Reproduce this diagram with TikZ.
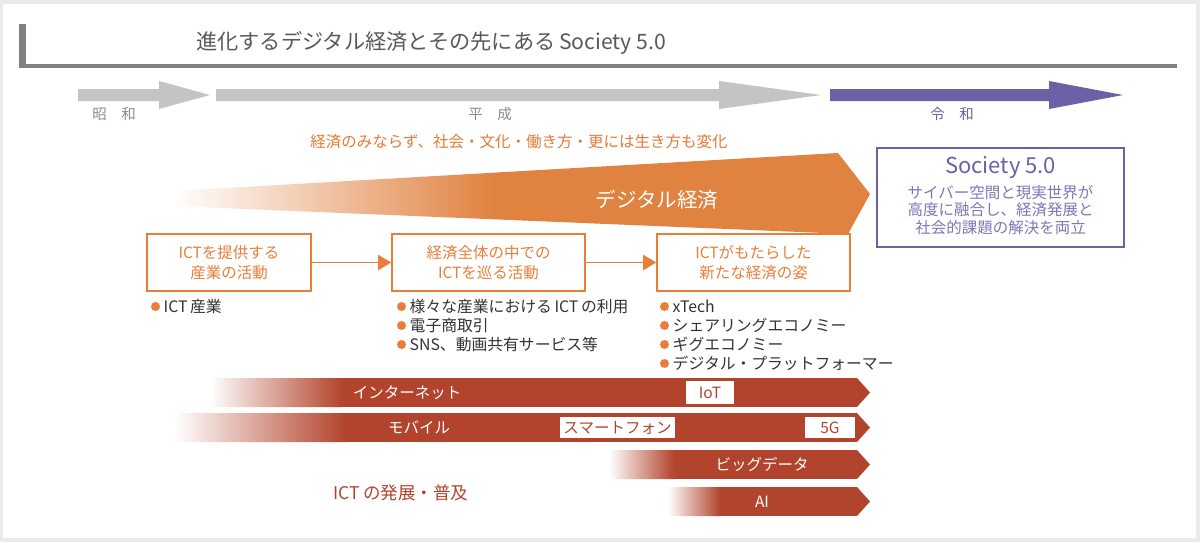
\documentclass[tikz,border=0pt]{standalone}
\usepackage{fontspec}
\setmainfont{Noto Sans CJK JP}
\usetikzlibrary{arrows.meta}
\definecolor{bggrey}{RGB}{235,235,235}
\definecolor{framegrey}{RGB}{128,128,128}
\definecolor{titlegrey}{RGB}{89,89,89}
\definecolor{arrowgrey}{RGB}{196,196,196}
\definecolor{eragrey}{RGB}{140,140,140}
\definecolor{purp}{RGB}{108,96,166}
\definecolor{purplight}{RGB}{128,118,182}
\definecolor{wedgeor}{RGB}{224,130,64}
\definecolor{orngtext}{RGB}{230,122,52}
\definecolor{boxor}{RGB}{232,126,58}
\definecolor{icred}{RGB}{178,68,45}
\definecolor{bultext}{RGB}{51,51,51}
\newcommand\fs[1]{\fontsize{#1}{#1}\selectfont}
\newcommand\bul[4]{\fill[boxor] (#2,#3) circle[radius=4.5];
  \node[bulnode] (#1) at (#2+8,#3) {#4};}
\newcommand\ictbar[5]{%
  \begin{scope}
    \clip (#2,#4) -- (857,#4) -- (870,{(#4+#5)/2}) -- (857,#5) -- (#2,#5) -- cycle;
    \shade[left color=white, right color=icred] (#2,#4) rectangle (#3,#5);
    \fill[icred] (#3-0.5,#4) rectangle (871,#5);
  \end{scope}
  \coordinate (#1) at (#2,{(#4+#5)/2});}
\begin{document}
\begin{tikzpicture}[x=1pt,y=-1pt,
  obox/.style={draw=boxor, line width=1.6pt, text=boxor, align=center,
    font=\fontsize{15.5}{20}\selectfont, inner sep=0pt, minimum height=57pt},
  oarrow/.style={draw=boxor, line width=1.6pt, -{Triangle[length=13pt,width=15pt]}},
  bulnode/.style={anchor=west, inner sep=0pt, text=bultext, font=\fs{15.8}},
  wbox/.style={fill=white, text=icred, inner sep=0pt, font=\fs{15.5}},
  barlabel/.style={text=white, inner sep=0pt, font=\fs{15.5}},
  eralabel/.style={inner sep=0pt, font=\fs{14.5}}]
\useasboundingbox (0,0) rectangle (1200,542);
\fill[bggrey] (0,0) rectangle (1200,542);
\fill[white] (3,4) rectangle (1196,538);

% title frame
\fill[framegrey] (19,24) rectangle (26,68);
\fill[framegrey] (19,64) rectangle (1177,68);
\node[anchor=west, inner sep=0pt, text=titlegrey, font=\fs{21.2}] (title) at (196,43)
  {進化するデジタル経済とその先にある\,Society 5.0};

% era arrows
\fill[arrowgrey] (78,89) -- (159,89) -- (159,81) -- (210,95) -- (159,109) -- (159,101) -- (78,101) -- cycle;
\fill[arrowgrey] (216,89) -- (719,89) -- (719,81) -- (821,95) -- (719,109) -- (719,101) -- (216,101) -- cycle;
\fill[purp] (830,89) -- (1049,89) -- (1049,81) -- (1123,95) -- (1049,109) -- (1049,101) -- (830,101) -- cycle;
\node[eralabel, text=eragrey] (showa) at (114,114) {昭　和};
\node[eralabel, text=eragrey] (heisei) at (490,114) {平　成};
\node[eralabel, text=purp] (reiwa) at (952,114) {令　和};

% orange subtitle
\node[inner sep=0pt, text=orngtext, font=\fs{15.5}] (sub) at (519,142)
  {経済のみならず、社会・文化・働き方・更には生き方も変化};

% digital economy wedge
\begin{scope}
  \clip (173,191) -- (838,153) -- (870,194) -- (848,234) -- (173,206) -- cycle;
  \shade[left color=white, right color=wedgeor] (173,150) rectangle (495,240);
  \fill[wedgeor] (494.5,150) rectangle (875,240);
\end{scope}
\node[text=white, inner sep=0pt, font=\fs{20.5}] (dig) at (657,200) {デジタル経済};

% Society 5.0 box
\node[draw=purp, line width=1.3pt, minimum width=247pt, minimum height=99pt, inner sep=0pt] (soc) at (1000.5,197.5) {};
\node[text=purp, inner sep=0pt, font=\fs{22}] (soct) at (1000.5,168) {Society 5.0};
\node[text=purplight, inner sep=0pt, align=center, font=\fontsize{15.5}{17.5}\selectfont] (socs) at (1000.5,210)
  {サイバー空間と現実世界が\\高度に融合し、経済発展と\\社会的課題の解決を両立};

% three boxes
\node[obox, minimum width=164pt] (b1) at (229,262.5) {ICTを提供する\\産業の活動};
\node[obox, minimum width=193pt] (b2) at (488.5,262.5) {経済全体の中での\\ICTを巡る活動};
\node[obox, minimum width=193pt] (b3) at (753.5,262.5) {ICTがもたらした\\新たな経済の姿};
\draw[oarrow] (b1) -- (b2);
\draw[oarrow] (b2) -- (b3);

% bullets
\bul{l1}{155.5}{306.5}{ICT\,産業}
\bul{l2a}{401.5}{306.5}{様々な産業における\,ICT\,の利用}
\bul{l2b}{401.5}{325.5}{電子商取引}
\bul{l2c}{401.5}{344.5}{SNS、動画共有サービス等}
\bul{l3a}{664.5}{306.5}{xTech}
\bul{l3b}{664.5}{325.5}{シェアリングエコノミー}
\bul{l3c}{664.5}{344.5}{ギグエコノミー}
\bul{l3d}{664.5}{363.5}{デジタル・プラットフォーマー}

% ICT bars
\ictbar{bar1}{210}{342}{378}{407}
\ictbar{bar2}{174}{346}{413}{442}
\ictbar{bar3}{609}{674}{450}{479}
\ictbar{bar4}{668}{720}{487}{516}
\node[barlabel] (net) at (407,392.5) {インターネット};
\node[barlabel] (mob) at (419,427.5) {モバイル};
\node[barlabel] (big) at (762,464.5) {ビッグデータ};
\node[barlabel] (ai) at (762,501.5) {AI};
\node[wbox, minimum width=48pt, minimum height=23pt] (iot) at (710,392.5) {IoT};
\node[wbox, minimum width=115pt, minimum height=21pt] (sp) at (617.5,427.5) {スマートフォン};
\node[wbox, minimum width=50pt, minimum height=21pt] (g5) at (830,427.5) {5G};
\node[inner sep=0pt, text=icred, font=\fs{17.5}] (ict) at (401,493) {ICT\,の発展・普及};
\end{tikzpicture}
\end{document}
